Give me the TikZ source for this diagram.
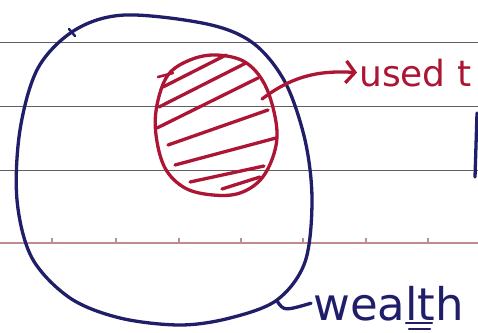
\documentclass[tikz,border=0pt]{standalone}
\usepackage{tikz}
\usepackage{fontspec}
\setsansfont{DejaVu Sans}
\usetikzlibrary{arrows.meta}
\definecolor{navyink}{RGB}{32,30,105}
\definecolor{redink}{RGB}{172,22,52}
\definecolor{rule}{RGB}{95,95,95}
\definecolor{margin}{RGB}{190,140,145}

\begin{document}
\begin{tikzpicture}[x=1pt,y=-1pt,
  navy/.style={line width=3.3pt,navyink,line cap=round,line join=round},
  redpen/.style={line width=3.3pt,redink,line cap=round,line join=round},
  hand/.style={font=\fontsize{#1}{#1}\selectfont\sffamily,inner sep=2pt}]
\useasboundingbox (0,0) rectangle (478,332);
\fill[white] (0,0) rectangle (478,332);
% ruled paper
\foreach \y in {42,106,170}
  \draw[rule,line width=1pt] (0,\y) -- (478,\y);
\draw[margin,line width=1.1pt] (0,243) -- (478,243);
\foreach \x in {52,116,179,241,303,366,428}
  \draw[margin,line width=1.1pt] (\x,243) -- (\x,238);
% wealth
\draw[navy] plot[smooth cycle,tension=0.55] coordinates {(125,15) (207,24)
 (253,43) (285,82) (305,140) (312,200) (305,262) (277,300) (230,318)
 (180,325) (120,318) (70,298) (32,258) (17,200) (20,130) (38,68) (75,30)};
\draw[navy,line width=2.4pt] (69,29) -- (75,36);
% used part
\draw[redpen] plot[smooth cycle,tension=0.6] coordinates {(216,55) (245,62) (265,85)
 (276,122) (275,150) (262,178) (240,193) (213,195) (185,188) (165,168) (156,135)
 (157,105) (168,75) (190,60)};
\draw[redpen,line width=2.6pt] (158,77) -- (173,73);
\foreach \a/\b in {{(163,87)}/{(226,55)},{(159,107)}/{(246,63)},{(157,128)}/{(258,78)},
  {(168,145)}/{(268,110)},{(175,165)}/{(276,138)},{(190,182)}/{(264,166)},{(222,189)}/{(260,177)}}
  \draw[redpen] \a -- \b;
% labels
\node[hand=36,redink,anchor=base west] (used) at (357,86) {used t};
\node[hand=45,navyink,anchor=base west] (wealth) at (311,320) {wealth};
\coordinate (src) at (262,99);
\coordinate (hook) at (277,301);
\draw[redpen,-{Straight Barb[length=9pt,width=22pt]}] (src) .. controls (290,78) and (315,70) .. (used.west);
\draw[navy] (hook) .. controls (284,311) .. (wealth.west);
\draw[navy,line width=2.4pt] (406,323) -- (432,323);
\draw[navy,line width=2.4pt] (409,329) -- (430,329);
\draw[navy] (477,113) -- (475,177);
\end{tikzpicture}
\end{document}
